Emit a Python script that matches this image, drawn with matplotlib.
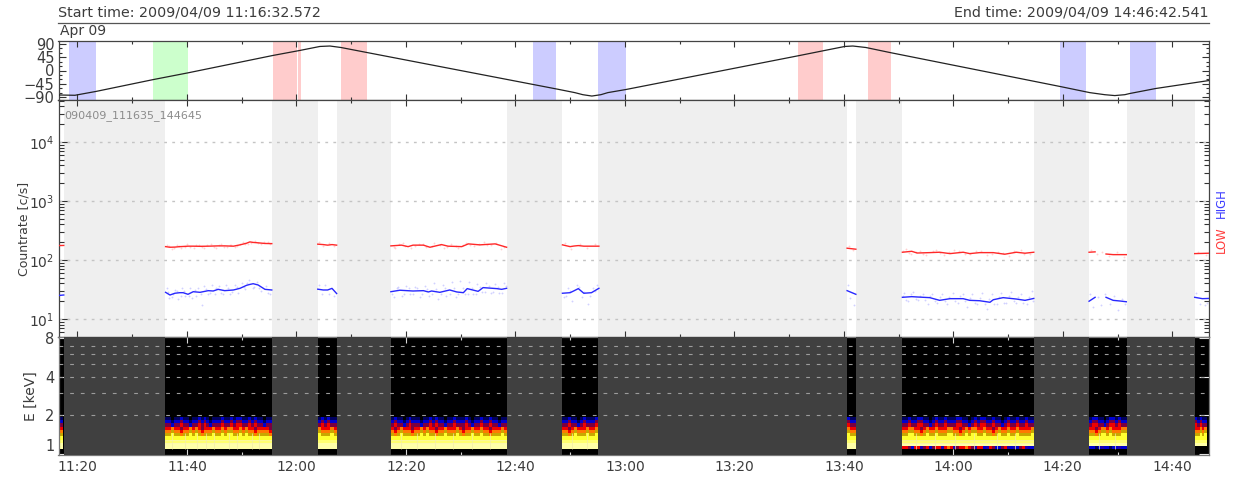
import numpy as np
import matplotlib
matplotlib.use('Agg')
import matplotlib.pyplot as plt
from matplotlib.colors import ListedColormap, BoundaryNorm
from matplotlib.ticker import FixedLocator, FuncFormatter, LogLocator, NullFormatter

# all times are minutes after 11:00
T_START = 16.54
T_END = 226.71

# top panel, magnetic latitude
lat_t = [16.54, 19.54, 23.38, 33.79, 40.18, 55.71, 60.64, 64.29, 66.12, 68.13, 72.88, 103.0, 107.76,
         110.86, 112.33, 113.97, 115.62, 116.89, 120.18, 151.96, 156.53, 160.18, 161.64, 164.02, 168.4, 199.45, 204.93,
         207.67, 209.5, 211.33, 212.24, 216.99, 226.7]
lat_v = [-83, -84, -71, -31, -8, 51, 68, 81.5, 83, 78, 61, -46.5, -63.5,
         -75, -82, -86.6, -82, -75, -64.5, 51, 68, 81.5, 83, 78, 61, -54, -75,
         -82, -85, -82, -78, -61, -34]

blue_zones = [(18.5, 23.32), (103.2, 107.4), (115.07, 120.18), (199.45, 204.2), (212.24, 216.99)]
green_zones = [(33.74, 40.13)]
red_zones = [(55.71, 60.04), (60.22, 60.77), (68.13, 72.82), (151.6, 156.2), (164.4, 168.6)]

# gaps in the data, grey in both lower panels
gaps = [(17.53, 35.98), (55.58, 63.87), (67.40, 77.21), (98.45, 108.5), (115.07, 160.55),
        (162.2, 170.6), (194.7, 204.75), (211.75, 224.1)]

# count rates per stretch of data
seg0_t = [16.54, 17.5]
seg0_red = [175, 176]
seg0_blue = [25, 25.5]

seg1_t = [36.1, 36.9, 37.8, 38.7, 39.3, 40.2, 41.15, 42.4, 43.9, 44.8, 45.7, 46.9, 48.5, 49.7, 50.9, 51.5,
          52.1, 53, 54.25, 55.5]
seg1_red = [168, 164, 165, 168, 169, 171, 171, 170, 171, 172, 173, 173, 171, 180, 192, 202,
            198, 195, 190, 189]
seg1_blue = [28.3, 25.5, 27.3, 27.9, 27.9, 26.2, 29, 28.3, 30.2, 29.8, 31.8, 30.2, 31, 33.1, 37.2, 38.5,
             39.6, 37.7, 31.8, 31]

seg2_t = [63.9, 64.9, 65.7, 66.5, 67.35]
seg2_red = [185, 182, 178, 182, 178]
seg2_blue = [32, 31, 31, 33, 27]

seg3_red_t = [77.26, 79.2, 80.4, 81.3, 83.2, 84.4, 86.5, 87.7, 90.2, 91.4, 93.5, 96.3, 98.4]
seg3_red = [173, 178, 168, 178, 178, 164, 182, 171, 168, 187, 180, 187, 164]
seg3_blue_t = [77.26, 78.9, 81.3, 83.2, 84.1, 84.7, 86.2, 88.0, 89.3, 90.5, 91.2, 93.2, 94.1, 96.6, 97.5, 98.4]
seg3_blue = [29, 30.7, 29.8, 30.2, 28.7, 29.8, 28.3, 31, 28.7, 27.9, 32.7, 29.4, 34, 32.7, 31.8, 33.1]

seg4_t = [108.6, 110, 110.7, 111.5, 112.5, 113.9, 115.26]
seg4_red = [180, 168, 172, 175, 171, 171, 171]
seg4_blue = [27.3, 27.9, 30, 32.7, 27.3, 27.9, 33.1]

seg5_t = [160.6, 162.2]
seg5_red = [158, 152]
seg5_blue = [30.2, 26.2]

seg6_red_t = [170.7, 172.4, 173.4, 175.7, 177.5, 179.4, 181.8, 183, 184.8, 187.3, 189.4, 191.5, 193.1, 194.7]
seg6_red = [135, 140, 131, 133, 135, 128, 135, 128, 133, 133, 125, 135, 130, 135]
seg6_blue_t = [170.7, 172.4, 173.4, 175.7, 177.5, 179.4, 181.8, 183, 184.8, 186.7, 187.3, 189.1, 191.5, 193.1, 194.7]
seg6_blue = [23.3, 23.9, 23.6, 23, 20.7, 22.1, 22.1, 20.7, 20.4, 19.2, 21.2, 23, 21.8, 20.7, 22.3]

seg7a_t = [204.8, 205.9]
seg7a_red = [135, 137]
seg7a_blue = [20, 23.3]
seg7b_t = [207.9, 209.2, 210.4, 211.6]
seg7b_red = [126, 123, 123, 123]
seg7b_blue = [23.3, 20.7, 20.2, 19.6]

seg8_t = [224.1, 225.5, 226.7]
seg8_red = [128, 129, 130]
seg8_blue = [23.3, 22.1, 22.3]

# faint single measurements around the smoothed lines
red_dot_t = [36.4, 37.3, 38.2, 39.0, 40.1, 41.3, 42.2, 43.1, 44.4, 45.3, 46.2, 47.4, 48.1, 49.2, 50.2, 51.1, 52.4, 53.5, 54.8,
             64.1, 64.8, 65.9, 66.8, 78.1, 79.4, 80.9, 82.4, 83.7, 85.2, 86.9, 88.3, 89.6, 91.0, 92.4, 94.2, 95.6, 97.3,
             109.1, 110.2, 111.8, 113.1, 114.5, 160.9, 161.6, 171.3, 172.2, 173.9, 175.1, 176.8, 178.3, 180.1, 182.2,
             184.2, 186.1, 188.2, 190.2, 192.4, 194.1, 205.1, 206.3, 207.1, 208.4, 209.9, 211.1, 224.7, 226.1,
             36.8, 37.7, 38.6, 39.6, 40.6, 41.7, 42.7, 43.6, 44.9, 45.8, 46.8, 47.8, 48.8, 49.7, 50.7, 51.7, 52.9, 54.0, 55.2,
             77.8, 78.7, 79.9, 81.6, 83.1, 84.7, 86.2, 87.6, 89.1, 90.4, 91.8, 93.3, 94.9, 96.4, 98.0,
             170.9, 171.9, 173.1, 174.5, 176.2, 177.6, 179.2, 181.0, 183.0, 185.0, 187.0, 189.0, 191.0, 193.0]
red_dot_v = [180, 155, 176, 158, 183, 162, 181, 160, 184, 162, 187, 164, 182, 170, 205, 185, 212, 186, 200,
             198, 170, 190, 172, 162, 190, 158, 186, 166, 192, 162, 184, 158, 196, 172, 198, 176, 154,
             192, 156, 188, 160, 183, 172, 146, 152, 125, 144, 122, 146, 120, 145, 124, 143, 122, 138, 116, 147, 124,
             148, 126, 134, 116, 136, 114, 138, 122,
             174, 160, 173, 163, 165, 177, 164, 176, 165, 178, 168, 179, 164, 186, 184, 194, 190, 202, 184,
             166, 184, 172, 170, 184, 170, 176, 165, 174, 178, 180, 187, 178, 192, 168,
             141, 131, 138, 128, 139, 129, 134, 140, 124, 139, 128, 130, 141, 127]
blue_dot_t = [36.3, 36.8, 37.2, 37.9, 38.3, 39.1, 39.7, 40.5, 41.0, 41.6, 42.1, 42.7, 43.2, 43.8, 44.5, 45.1, 45.9, 46.5,
              47.2, 47.9, 48.7, 49.4, 50.1, 50.7, 51.3, 52.0, 52.8, 53.6, 54.4, 55.2,
              64.2, 64.7, 65.3, 66.0, 66.9, 77.8, 78.6, 79.3, 80.1, 80.8, 81.7, 82.5, 83.4, 84.3, 85.1, 85.9, 86.7, 87.4,
              88.4, 89.1, 89.9, 90.8, 91.6, 92.3, 93.0, 93.9, 94.7, 95.5, 96.2, 97.1, 98.0,
              108.9, 109.6, 110.4, 111.2, 112.1, 113.3, 114.1, 114.9,
              160.8, 161.2, 161.9, 171.0, 171.7, 172.6, 173.6, 174.4, 175.3, 176.1, 177.1, 178.0, 178.9, 179.9, 180.8,
              181.7, 182.5, 183.4, 184.3, 185.2, 186.1, 187.0, 187.9, 188.8, 189.7, 190.6, 191.4, 192.3, 193.4, 194.3,
              205.0, 205.5, 206.4, 207.0, 207.8, 208.6, 209.4, 210.1, 210.9, 211.4, 224.4, 225.1, 225.9, 226.4,
              36.6, 37.5, 38.1, 38.9, 39.5, 40.3, 41.4, 42.5, 43.5, 44.2, 45.4, 46.2, 47.5, 48.3, 49.1, 50.4, 51.0, 52.3, 53.2, 54.9,
              77.5, 78.3, 79.7, 80.5, 81.3, 82.1, 83.0, 83.9, 84.8, 85.5, 86.4, 87.1, 88.1, 88.8, 89.5, 90.4, 91.3, 92.0, 92.8, 93.6,
              94.4, 95.2, 96.0, 96.8, 97.6, 98.3, 109.2, 110.0, 111.6, 112.5, 113.7, 114.6,
              170.8, 171.4, 172.2, 173.1, 174.0, 174.9, 175.7, 176.6, 177.6, 178.4, 179.3, 180.3, 181.2, 182.1, 183.0,
              183.9, 184.8, 185.7, 186.6, 187.5, 188.4, 189.3, 190.2, 191.0, 191.9, 192.8, 193.9, 194.5]
blue_dot_v = [33, 22.5, 24, 31.5, 22, 33, 24.5, 34, 23, 25, 34, 17.5, 36, 26, 37, 26, 36, 26,
              37, 27, 38, 28, 41, 32, 45, 33, 43, 30, 36, 27,
              38, 26, 37, 27, 25, 24, 35, 25, 36, 26, 35, 24, 36, 25, 40, 22, 38, 25,
              42, 24, 44, 26, 43, 26, 39, 29, 41, 28, 39, 28, 41,
              24, 33, 20, 37, 24, 18, 33, 38,
              38, 23, 17, 28, 20, 29, 21, 26, 18, 27, 19, 26, 18, 28, 19,
              27, 16, 26, 18, 28, 15, 26, 18, 28, 19, 29, 19, 27, 18, 30,
              26, 16, 24, 17, 27, 18, 25, 14, 22, 18, 28, 18, 17, 19,
              29, 26, 30, 25, 30, 25, 31, 26, 32, 28, 33, 28, 33, 29, 35, 35, 41, 35, 33, 28,
              27, 33, 27, 33, 27, 33, 27, 32, 27, 32, 26, 33, 27, 34, 26, 33, 26, 34, 27, 35,
              29, 36, 29, 35, 28, 36, 25, 30, 35, 29, 25, 30,
              25, 21, 26, 22, 25, 21, 25, 20, 24, 20, 24, 20, 25, 20, 23,
              19, 23, 18, 22, 18, 24, 19, 25, 20, 24, 19, 24, 20]

# spectrogram, energy bin edges in keV and the colour level of each bin from low to high energy
energy_edges = [1.082, 1.147, 1.215, 1.288, 1.365, 1.447, 1.534, 1.626, 1.723, 1.826, 1.936]
profile = [10, 10, 9, 8, 7, 6, 5, 4, 2, 1, 0]
level_colors = ['#000000', '#000060', '#0000d0', '#2000b0', '#7a0040', '#f00000',
                '#ff7a00', '#c8a800', '#ffff30', '#ffff70', '#ffffa8']

spec_segments = [(16.54, 17.4), (35.98, 55.5), (63.87, 67.40), (77.21, 98.45), (108.5, 115.07),
                 (160.55, 162.2), (170.6, 194.7), (204.75, 211.75), (224.1, 226.3)]
spec_shift = [
    [0, 0],
    [0, 0, -1, 0, 0, 1, 0, 0, -1, 0, 0, 1, 0, 1, 0, -1, 0, 0, 0, 1, 0, 0, 1, 0, 1, 1, 0, 0, 1, 0, 1, 0, 0, -1, 0, 0],
    [0, 1, 0, 1, 0, 0],
    [0, 1, 0, 0, -1, 0, 1, 0, 0, 0, -1, 0, 0, 1, 0, 1, 0, 0, -1, 0, 0, 1, 0, 0, 0, 1, 0, -1, 0, 0, 1, 0, 0, 1, 0, 0, -1, 0, 0],
    [0, 0, 1, 0, 0, -1, 0, 1, 0, 0, 0, 1],
    [1, 0, 0],
    [0, 0, 1, 0, 0, 1, 1, 0, 0, -1, 0, 1, 0, 0, 1, 0, 0, 0, 1, 1, 0, 0, -1, 0, 1, 0, 1, 1, 0, 0, 1, 0, 0, -1, 0, 1, 0, 0, 1, 0, 0, 1, 0, 0],
    [0, 1, 1, 0, 0, -1, 0, 1, 1, 0, 1, 0, 0],
    [1, 0, 1, 0, 0],
]
# lowest energy bin, it drops out late in the pass
spec_row0 = [
    None, None, None, None, None, None,
    [5, 5, 4, 2, 5, 5, 3, 4, 5, 2, 4, 5, 5, 3, 5, 6, 5, 3, 4, 5, 5, 6, 5, 4, 3, 5, 5, 2, 3, 5, 4, 2, 2, 4, 5, 3, 2, 3, 2, 4, 5, 3, 2, 2],
    [2, 2, 1, 2, 3, 2, 2, 1, 2, 2, 3, 2, 2],
    [0, 0, 0, 0, 0],
]
# paler columns running through the yellow part
stripe_t = [37.2, 39.6, 41.9, 43.4, 45.0, 47.6, 49.1, 51.8, 53.2, 79.1, 82.0, 85.3, 88.6, 92.1, 95.4, 110.4, 113.0,
            173.2, 176.6, 180.3, 183.7, 187.9, 191.2, 206.6, 209.6]

PX_W, PX_H = 1240, 480
TEXT = '#3c3c3c'


def panel(fig, top, bottom):
    left, right = 58.5, 1209
    ax = fig.add_axes([left / PX_W, 1 - bottom / PX_H, (right - left) / PX_W, (bottom - top) / PX_H])
    ax.set_xlim(T_START, T_END)
    ax.xaxis.set_major_locator(FixedLocator([20 + 20 * i for i in range(11)]))
    ax.xaxis.set_minor_locator(FixedLocator([30 + 20 * i for i in range(10)]))
    ax.xaxis.set_major_formatter(FuncFormatter(lambda t, p: '%d:%02d' % (11 + int(t) // 60, int(t) % 60)))
    ax.tick_params(axis='both', which='major', direction='in', top=True, right=True,
                   length=4.5, width=0.8, color='#333333', labelsize=10, labelcolor=TEXT, pad=3)
    ax.tick_params(axis='both', which='minor', direction='in', top=True, right=True,
                   length=2.2, width=0.8, color='#333333')
    ax.tick_params(axis='x', labelbottom=False)
    for s in ax.spines.values():
        s.set_color('#444444')
        s.set_linewidth(0.9)
    return ax


def plot_latitude(ax):
    for zones, color in [(blue_zones, '#ccccff'), (green_zones, '#ccffcc'), (red_zones, '#ffcccc')]:
        for a, b in zones:
            ax.axvspan(a, b, color=color, lw=0, zorder=1)
    ax.plot(lat_t, lat_v, color='#222222', lw=0.9, zorder=3)
    ax.set_ylim(-100, 100)
    ax.set_yticks([-90, -45, 0, 45, 90])
    ax.set_yticks([-75, -60, -30, -15, 15, 30, 60, 75], minor=True)
    ax.tick_params(axis='y', which='major', length=5, labelsize=10.5)
    ax.tick_params(axis='y', which='minor', length=2.5)


def plot_rates(ax):
    ax.set_yscale('log')
    ax.set_ylim(4.96, 5.1e4)
    ax.yaxis.set_major_locator(LogLocator(base=10, numticks=8))
    ax.yaxis.set_minor_locator(LogLocator(base=10, subs=np.arange(2, 10), numticks=12))
    ax.yaxis.set_minor_formatter(NullFormatter())
    ax.tick_params(axis='y', which='major', length=7)
    ax.tick_params(axis='y', which='minor', length=3.5)
    for a, b in gaps:
        ax.axvspan(a, b, color='#efefef', lw=0, zorder=1)
    for v in [10, 100, 1000, 10000]:
        ax.axhline(v, color='#c4c4c4', lw=1, ls=(0, (2, 3.8)), zorder=2)

    ax.scatter(red_dot_t, red_dot_v, s=1.8, color='#ff3030', alpha=0.22, linewidths=0, zorder=3)
    ax.scatter(blue_dot_t, blue_dot_v, s=1.8, color='#3030ff', alpha=0.22, linewidths=0, zorder=3)

    red_lines = [(seg0_t, seg0_red), (seg1_t, seg1_red), (seg2_t, seg2_red), (seg3_red_t, seg3_red), (seg4_t, seg4_red),
                 (seg5_t, seg5_red), (seg6_red_t, seg6_red), (seg7a_t, seg7a_red), (seg7b_t, seg7b_red), (seg8_t, seg8_red)]
    blue_lines = [(seg0_t, seg0_blue), (seg1_t, seg1_blue), (seg2_t, seg2_blue), (seg3_blue_t, seg3_blue), (seg4_t, seg4_blue),
                  (seg5_t, seg5_blue), (seg6_blue_t, seg6_blue), (seg7a_t, seg7a_blue), (seg7b_t, seg7b_blue), (seg8_t, seg8_blue)]
    for t, v in red_lines:
        ax.plot(t, v, color='#ff2828', lw=1.0, zorder=4)
    for t, v in blue_lines:
        ax.plot(t, v, color='#2828ff', lw=1.0, zorder=4)

    ax.set_ylabel('Countrate [c/s]', fontsize=9, color=TEXT)
    ax.yaxis.set_label_coords(-0.0245, 0.456)
    ax.text(17.53, 2.77e4, '090409_111635_144645', fontsize=8, color='#8c8c8c', va='center', zorder=5)
    ax.text(1.0052, 0.409, 'LOW', transform=ax.transAxes, rotation=90, color='#ff3c3c', fontsize=8.4, va='center', ha='left')
    ax.text(1.0052, 0.565, 'HIGH', transform=ax.transAxes, rotation=90, color='#3c3cff', fontsize=8.4, va='center', ha='left')


def plot_spectrum(ax):
    ax.set_facecolor('black')
    ax.set_yscale('log', base=2)
    ax.set_ylim(0.977, 8.18)
    ax.yaxis.set_major_locator(FixedLocator([1, 2, 4, 8]))
    ax.yaxis.set_minor_locator(FixedLocator([]))
    ax.yaxis.set_major_formatter(FuncFormatter(lambda v, p: '%d' % v))
    ax.tick_params(axis='y', which='major', length=7, color='#f0f0f0', labelsize=10.5)
    ax.tick_params(axis='x', which='both', color='#d8d8d8', labelbottom=True)

    cmap = ListedColormap(level_colors)
    norm = BoundaryNorm(np.arange(-0.5, len(level_colors)), cmap.N)
    rows = len(energy_edges) - 1
    for (a, b), shift, row0 in zip(spec_segments, spec_shift, spec_row0):
        edges = np.linspace(a, b, len(shift) + 1)
        z = np.zeros((rows, len(shift)))
        for c, s in enumerate(shift):
            # middle of the spectrum moves less in step with the top of it
            s_mid = shift[(c + 3) % len(shift)]
            for r in range(rows):
                if r < 4:
                    i = r
                elif r < 7:
                    i = r - s_mid
                else:
                    i = r - s
                z[r, c] = profile[min(max(i, 0), len(profile) - 1)]
            if row0 is not None:
                z[0, c] = row0[c]
        ax.pcolormesh(edges, energy_edges, z, cmap=cmap, norm=norm, linewidth=0, zorder=1)

    ax.vlines(stripe_t, 1.09, 1.44, color='#f2eaa8', lw=0.5, zorder=2)
    for e in [1.215, 1.288]:
        ax.hlines(e, 36.0, 55.5, color='#f8f2b8', lw=0.4, zorder=2)
        ax.hlines(e, 77.2, 98.4, color='#f8f2b8', lw=0.4, zorder=2)
        ax.hlines(e, 170.6, 194.7, color='#f2eaa8', lw=0.4, zorder=2)

    for a, b in gaps:
        ax.axvspan(a, b, color='#404040', lw=0, zorder=3)
    for e in [2, 3, 4, 5, 6, 7]:
        ax.axhline(e, color='#9c9c9c', lw=0.8, ls=(0, (3.4, 6.2)), zorder=4)

    ax.set_ylabel('E [keV]', fontsize=10, color=TEXT)
    ax.yaxis.set_label_coords(-0.018, 0.5)
    ax.tick_params(axis='x', pad=3.5)
    ax.get_yticklabels()[0].set_verticalalignment('bottom')
    for s in ax.spines.values():
        s.set_color('#777777')


fig = plt.figure(figsize=(PX_W / 100, PX_H / 100), dpi=100)

fig.text(58 / PX_W, 1 - 12 / PX_H, 'Start time: 2009/04/09 11:16:32.572', fontsize=10.3, color=TEXT, va='center', ha='left')
fig.text(1209 / PX_W, 1 - 12 / PX_H, 'End time: 2009/04/09 14:46:42.541', fontsize=10.3, color=TEXT, va='center', ha='right')
fig.text(60 / PX_W, 1 - 31.5 / PX_H, 'Apr 09', fontsize=10, color=TEXT, va='center', ha='left')
fig.add_artist(plt.Line2D([58 / PX_W, 1209 / PX_W], [1 - 22.5 / PX_H, 1 - 22.5 / PX_H], color='#555555', lw=0.9))

plot_latitude(panel(fig, 41, 100))
plot_rates(panel(fig, 100, 337))
plot_spectrum(panel(fig, 337, 455))

fig.savefig('out.png', dpi=100)
plt.close(fig)
